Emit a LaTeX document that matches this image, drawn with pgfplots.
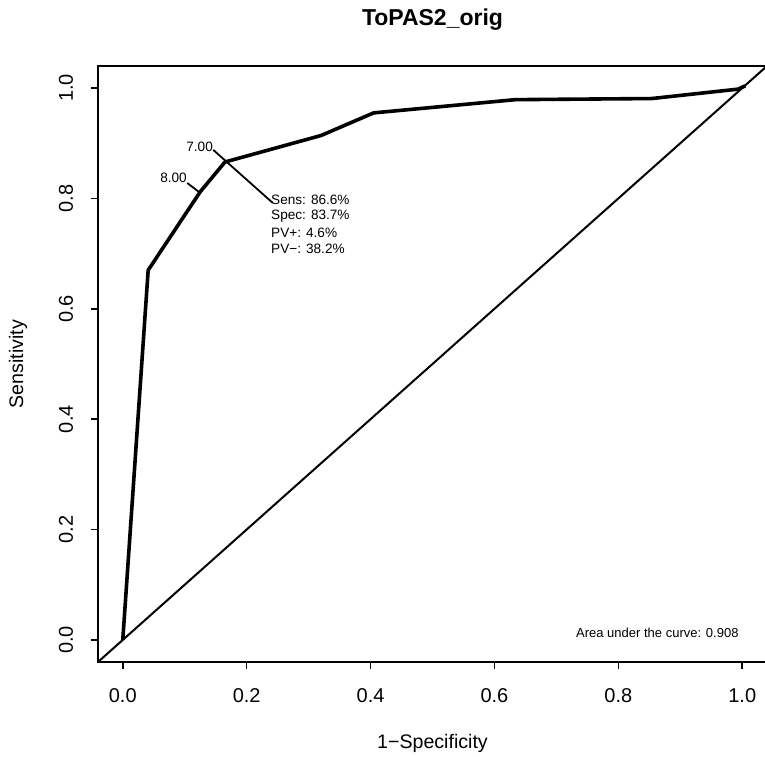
\documentclass[border=0pt]{standalone}
\usepackage{pgfplots}
\pgfplotsset{compat=1.18}
\usepackage{fontspec}
\setmainfont{Liberation Sans}
\begin{document}
\begin{tikzpicture}
  \begin{axis}[
      scale only axis,
      width=334.5pt, height=298pt,
      xmin=-0.04, xmax=1.04,
      ymin=-0.04, ymax=1.04,
      xtick={0,0.2,0.4,0.6,0.8,1},
      ytick={0,0.2,0.4,0.6,0.8,1},
      xticklabels={0.0,0.2,0.4,0.6,0.8,1.0},
      yticklabels={0.0,0.2,0.4,0.6,0.8,1.0},
      tick align=outside,
      major tick length=3.5pt,
      every tick/.style={black, line width=0.75pt},
      axis line style={line width=0.75pt},
      xtick pos=bottom, ytick pos=left,
      /pgf/number format/assume math mode=true,
      tick label style={font=\fontsize{10}{12}\selectfont},
      xticklabel style={anchor=center, yshift=-13.5pt},
      yticklabel style={xshift=-12.5pt, rotate=90, anchor=center},
      title={\bfseries ToPAS2\_orig},
      every axis title/.style={at={(rel axis cs:0.5,1)}, anchor=center, yshift=23pt, font=\fontsize{11.5}{13}\selectfont},
      xlabel={1\textminus Specificity},
      ylabel={Sensitivity},
      every axis x label/.style={at={(rel axis cs:0.5,0)}, anchor=center, yshift=-40.5pt, font=\fontsize{9.8}{12}\selectfont},
      every axis y label/.style={at={(rel axis cs:0,0.5)}, anchor=center, xshift=-40pt, rotate=90, font=\fontsize{9.8}{12}\selectfont},
      clip=true,
    ]
    % diagonal
    \addplot[black, line width=1pt] coordinates {(-0.04,-0.04) (1.04,1.04)};
    % ROC curve
    \addplot[black, line width=1.8pt, line join=round] coordinates {
      (0,0)
      (0.041,0.670)
      (0.125,0.812)
      (0.165,0.866)
      (0.320,0.914)
      (0.405,0.955)
      (0.634,0.979)
      (0.854,0.981)
      (0.993,0.998)
      (1.005,1.004)
    };
    % leader lines
    \addplot[black, line width=0.9pt] coordinates {(0.146,0.888) (0.242,0.792)};
    \addplot[black, line width=0.9pt] coordinates {(0.104,0.828) (0.125,0.810)};
    \node[font=\fontsize{6.8}{8}\selectfont, anchor=east, inner sep=0pt] at (axis cs:0.146,0.893) {7.00};
    \node[font=\fontsize{6.8}{8}\selectfont, anchor=east, inner sep=0pt] at (axis cs:0.104,0.837) {8.00};
    \node[font=\fontsize{6.8}{8}\selectfont, anchor=west, inner sep=0pt] at (axis cs:0.239,0.797) {Sens: 86.6\%};
    \node[font=\fontsize{6.8}{8}\selectfont, anchor=west, inner sep=0pt] at (axis cs:0.239,0.767) {Spec: 83.7\%};
    \node[font=\fontsize{6.8}{8}\selectfont, anchor=west, inner sep=0pt] at (axis cs:0.239,0.738) {PV+: 4.6\%};
    \node[font=\fontsize{6.8}{8}\selectfont, anchor=west, inner sep=0pt] at (axis cs:0.239,0.709) {PV−: 38.2\%};
    \node[font=\fontsize{6.5}{8}\selectfont, anchor=center, inner sep=0pt] at (axis cs:0.863,0.013) {Area under the curve: 0.908};
  \end{axis}
  \pgfresetboundingbox
  \path ([shift={(-49pt,-47.5pt)}]current axis.south west) rectangle ([shift={(-1pt,33pt)}]current axis.north east);
\end{tikzpicture}
\end{document}
